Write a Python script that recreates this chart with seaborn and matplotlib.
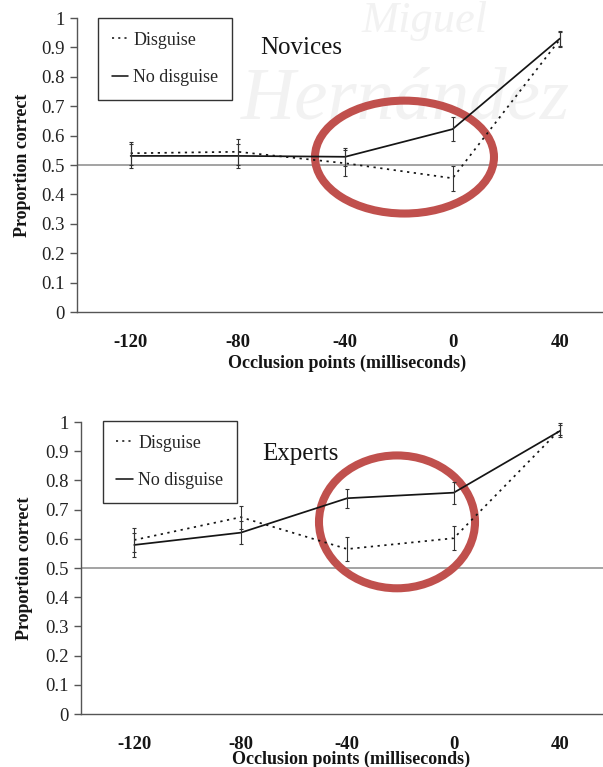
import numpy as np
import pandas as pd
import seaborn as sns
import matplotlib
matplotlib.use("Agg")
import matplotlib.pyplot as plt
from matplotlib.patches import Ellipse
from matplotlib.lines import Line2D

# Occlusion points (ms) and proportion correct per condition
occlusion = ["-120", "-80", "-40", "0", "40"]
conditions = ["Disguise", "No disguise"]

novice_disguise = [0.540, 0.545, 0.506, 0.455, 0.927]
novice_disguise_err = [0.040, 0.045, 0.045, 0.042, 0.025]
novice_plain = [0.531, 0.531, 0.528, 0.622, 0.930]
novice_plain_err = [0.040, 0.040, 0.031, 0.040, 0.025]

expert_disguise = [0.596, 0.674, 0.565, 0.602, 0.975]
expert_disguise_err = [0.042, 0.040, 0.040, 0.042, 0.020]
expert_plain = [0.579, 0.621, 0.739, 0.758, 0.970]
expert_plain_err = [0.042, 0.040, 0.033, 0.038, 0.020]

chance = 0.5
y_ticks = [0, 0.1, 0.2, 0.3, 0.4, 0.5, 0.6, 0.7, 0.8, 0.9, 1]
y_tick_labels = ["0", "0.1", "0.2", "0.3", "0.4", "0.5", "0.6", "0.7", "0.8", "0.9", "1"]

sns.set_theme(style="white")
plt.rcParams["font.family"] = ["Liberation Serif", "DejaVu Serif"]

RED = "#C0504D"
INK = "#151515"


def build_frame(disg, disg_err, plain, plain_err):
    pos = np.arange(len(occlusion))
    rows = []
    for name, vals, errs in ((conditions[0], disg, disg_err),
                             (conditions[1], plain, plain_err)):
        for p, lab, v, e in zip(pos, occlusion, vals, errs):
            rows.append({"pos": p, "occlusion": lab, "condition": name,
                         "value": v, "err": e})
    return pd.DataFrame(rows)


def draw_panel(ax, df, title, title_xy, legend_xy, ellipse, right, tick_pad):
    ax.set_facecolor("none")
    ax.axhline(chance, color="#a3a3a3", lw=1.4, zorder=1)
    sns.lineplot(data=df, x="pos", y="value", style="condition",
                 style_order=conditions,
                 dashes={"Disguise": (1.3, 2.6), "No disguise": ""},
                 color=INK, lw=1.25, errorbar=None, legend=False,
                 ax=ax, zorder=4)
    for name in conditions:
        sub = df[df["condition"] == name]
        ax.errorbar(sub["pos"], sub["value"], yerr=sub["err"], fmt="none",
                    ecolor="#333333", elinewidth=0.8, capsize=1.6,
                    capthick=0.8, zorder=4)

    ax.set_xlim(-0.5, right)
    ax.set_ylim(0, 1)
    ax.set_yticks(y_ticks, labels=y_tick_labels)
    ax.set_xticks(np.arange(-0.5, right, 1.0))
    ax.set_xticks(np.arange(len(occlusion)), labels=occlusion, minor=True)
    ax.tick_params(axis="x", which="major", length=5, width=1,
                   color="#555555", labelbottom=False, direction="out")
    ax.tick_params(axis="x", which="minor", length=0, pad=tick_pad,
                   labelsize=13.5, labelcolor=INK)
    for t in ax.get_xticklabels(minor=True):
        t.set_fontweight("bold")
    ax.tick_params(axis="y", length=5, width=1, color="#555555",
                   labelsize=13.5, labelcolor="#222222", pad=4,
                   direction="out", left=True)
    for side in ("top", "right"):
        ax.spines[side].set_visible(False)
    for side in ("left", "bottom"):
        ax.spines[side].set_color("#555555")
        ax.spines[side].set_linewidth(1.0)

    ax.set_xlabel("Occlusion points (milliseconds)", fontsize=13,
                  fontweight="bold", color=INK)
    ax.set_ylabel("Proportion correct", fontsize=13, fontweight="bold",
                  color=INK)

    handles = [Line2D([], [], color=INK, lw=1.15, dashes=(1.3, 2.6)),
               Line2D([], [], color=INK, lw=1.15)]
    leg = ax.legend(handles, conditions, loc="upper left",
                    bbox_to_anchor=legend_xy, frameon=True, fancybox=False,
                    framealpha=1, edgecolor="#333333", fontsize=13,
                    handlelength=0.9, handletextpad=0.3, labelspacing=1.15,
                    borderpad=0.75, borderaxespad=0)
    leg.get_frame().set_linewidth(1.0)
    leg.get_frame().set_facecolor("none")

    ax.text(title_xy[0], title_xy[1], title, transform=ax.transAxes,
            fontsize=18, ha="left", va="center", color=INK)

    # highlight drawn beneath the data lines
    (cx, cy), w, h = ellipse
    ax.add_patch(Ellipse((cx, cy), w, h, fill=False, ec=RED, lw=5.8,
                         clip_on=False, zorder=3))


fig = plt.figure(figsize=(6.03, 7.67), dpi=100)
fig.patch.set_facecolor("white")

# faint institutional watermark behind the upper panel
fig.text(0.60, 0.958, "Miguel", fontsize=32, style="italic",
         color="#f2f2f2", ha="left", va="baseline", zorder=-1)
fig.text(0.40, 0.845, "Hernández", fontsize=54, style="italic",
         color="#f2f2f2", ha="left", va="baseline", zorder=-1)

ax1 = fig.add_axes([0.1277, 0.5932, 0.8723, 0.3833])
ax2 = fig.add_axes([0.1343, 0.0691, 0.8657, 0.3807])

novices = build_frame(novice_disguise, novice_disguise_err,
                      novice_plain, novice_plain_err)
experts = build_frame(expert_disguise, expert_disguise_err,
                      expert_plain, expert_plain_err)

draw_panel(ax1, novices, "Novices", (0.348, 0.898), (0.040, 1.0),
           ((2.552, 0.527), 1.668, 0.384), 4.402, 16)
draw_panel(ax2, experts, "Experts", (0.347, 0.890), (0.042, 1.003),
           ((2.467, 0.658), 1.465, 0.455), 4.401, 15.5)

ax1.xaxis.set_label_coords(0.513, -0.145)
ax2.xaxis.set_label_coords(0.517, -0.127)
ax1.yaxis.set_label_coords(-0.087, 0.5)
ax2.yaxis.set_label_coords(-0.092, 0.5)

fig.savefig("out.png", dpi=100)
